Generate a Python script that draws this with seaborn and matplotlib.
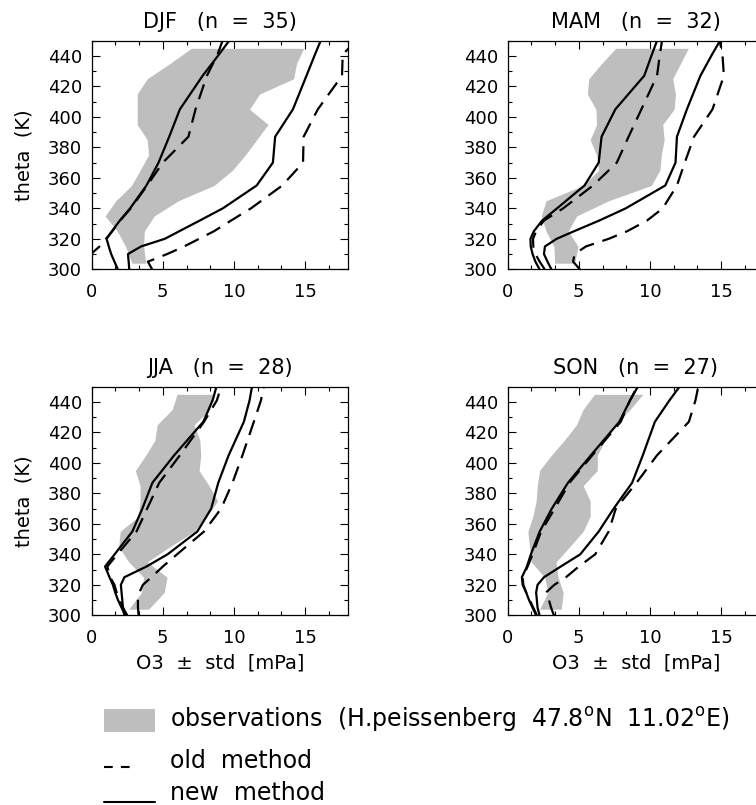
import numpy as np
import pandas as pd
import seaborn as sns
import matplotlib.pyplot as plt
from matplotlib.patches import Rectangle
from matplotlib.lines import Line2D
from matplotlib.ticker import MultipleLocator

# seasons and number of profiles
seasons = ['DJF', 'MAM', 'JJA', 'SON']
n_profiles = [35, 32, 28, 27]

# theta levels (K)
theta_obs = [304, 315, 325, 335, 345, 355, 365, 375, 385, 395, 405, 415, 425, 435, 445]
theta_mod = [300, 305, 310, 315, 320, 325, 332, 340, 355, 370, 387, 405, 427, 441, 450]

# observations: mean - std / mean + std (mPa)
djf_obs_lo = [2.83, 2.38, 1.8, 0.94, 1.7, 2.8, 3.4, 4.0, 3.9, 3.2, 3.2, 3.2, 3.9, 5.5, 7.0]
djf_obs_hi = [3.8, 3.65, 3.7, 4.4, 6.1, 8.6, 9.9, 10.8, 11.6, 12.4, 11.1, 11.8, 14.2, 14.4, 14.9]
mam_obs_lo = [3.3, 3.25, 2.7, 2.36, 2.7, 5.3, 6.4, 6.25, 5.8, 6.25, 6.2, 5.6, 5.7, 6.6, 7.6]
mam_obs_hi = [4.7, 4.95, 4.25, 4.85, 7.1, 10.1, 10.7, 10.8, 11.0, 10.9, 11.7, 11.8, 11.6, 12.15, 12.7]
jja_obs_lo = [2.6, 3.5, 3.65, 2.6, 1.9, 2.0, 3.3, 3.4, 3.4, 3.07, 3.8, 4.45, 4.6, 5.66, 6.0]
jja_obs_hi = [4.0, 5.1, 5.3, 3.9, 5.5, 7.2, 8.1, 8.85, 8.25, 7.55, 7.67, 7.6, 7.2, 8.3, 8.5]
son_obs_lo = [2.24, 2.83, 2.6, 1.65, 1.53, 1.42, 1.77, 2.0, 2.08, 2.24, 3.07, 4.0, 4.83, 5.3, 6.1]
son_obs_hi = [3.77, 3.9, 3.54, 3.4, 4.36, 5.3, 5.8, 5.8, 5.3, 6.3, 6.3, 6.85, 7.55, 8.6, 9.5]

# new method (solid)
djf_new_lo = [1.84, 1.6, 1.37, 1.2, 1.05, 1.42, 1.98, 2.7, 3.85, 4.7, 5.45, 6.2, 7.8, 8.95, 9.67]
djf_new_hi = [2.64, 2.6, 2.55, 3.47, 5.14, 6.16, 7.6, 9.22, 11.6, 12.74, 12.9, 14.15, 15.1, 15.7, 16.1]
mam_new_lo = [2.24, 1.95, 1.75, 1.62, 1.6, 1.84, 2.42, 3.47, 5.4, 6.4, 6.6, 7.57, 9.6, 10.14, 10.5]
mam_new_hi = [3.07, 2.8, 2.55, 2.62, 3.44, 4.67, 6.44, 8.3, 11.08, 11.8, 11.9, 12.6, 13.55, 14.37, 14.93]
jja_new_lo = [2.36, 2.1, 1.85, 1.65, 1.49, 1.25, 0.94, 1.61, 2.86, 3.56, 4.27, 5.8, 7.85, 8.5, 8.77]
jja_new_hi = [2.3, 2.2, 2.15, 2.1, 2.05, 2.3, 3.85, 5.33, 7.43, 8.4, 8.9, 9.63, 10.7, 11.1, 11.27]
son_new_lo = [2.0, 1.75, 1.5, 1.3, 1.05, 1.0, 1.35, 1.63, 2.25, 3.1, 4.24, 5.85, 7.85, 8.6, 9.15]
son_new_hi = [2.24, 2.1, 2.05, 2.0, 2.1, 2.55, 3.73, 5.1, 6.4, 7.45, 8.75, 9.5, 10.35, 11.37, 12.08]

# old method (dashed)
djf_old_lo = [-1.7, -0.9, -0.05, 0.55, 1.0, 1.45, 2.0, 2.75, 3.9, 5.0, 6.8, 7.3, 8.1, 8.85, 9.2]
djf_old_hi = [4.25, 3.95, 5.3, 6.5, 7.55, 8.6, 9.8, 11.2, 13.4, 14.86, 14.9, 15.9, 17.6, 17.65, 18.6]
mam_old_lo = [2.6, 2.25, 1.95, 1.8, 1.78, 2.0, 2.55, 3.9, 6.0, 7.67, 8.5, 9.4, 10.5, 10.7, 10.85]
mam_old_hi = [5.07, 4.6, 4.7, 5.5, 7.1, 8.4, 9.8, 10.9, 11.9, 12.45, 13.1, 14.4, 15.2, 15.1, 14.9]
jja_old_lo = [2.5, 2.2, 1.95, 1.75, 1.6, 1.3, 1.1, 1.8, 3.15, 3.9, 4.75, 6.2, 7.9, 8.8, 9.1]
jja_old_hi = [3.3, 3.25, 3.25, 3.35, 3.6, 4.2, 5.0, 6.0, 7.9, 9.1, 9.9, 10.6, 11.4, 11.9, 12.1]
son_old_lo = [2.05, 1.8, 1.55, 1.3, 1.1, 1.05, 1.4, 1.75, 2.35, 3.3, 4.35, 5.95, 7.95, 8.6, 9.1]
son_old_hi = [3.25, 3.05, 2.9, 2.7, 3.28, 4.1, 5.0, 6.15, 7.1, 7.6, 9.06, 10.5, 12.74, 13.2, 13.4]

obs = {'DJF': (djf_obs_lo, djf_obs_hi), 'MAM': (mam_obs_lo, mam_obs_hi),
       'JJA': (jja_obs_lo, jja_obs_hi), 'SON': (son_obs_lo, son_obs_hi)}
model = {
    'DJF': {'new': (djf_new_lo, djf_new_hi), 'old': (djf_old_lo, djf_old_hi)},
    'MAM': {'new': (mam_new_lo, mam_new_hi), 'old': (mam_old_lo, mam_old_hi)},
    'JJA': {'new': (jja_new_lo, jja_new_hi), 'old': (jja_old_lo, jja_old_hi)},
    'SON': {'new': (son_new_lo, son_new_hi), 'old': (son_old_lo, son_old_hi)},
}

# long table for seaborn
rows = []
for s in seasons:
    for method, (lo, hi) in model[s].items():
        for bound, vals in (('lo', lo), ('hi', hi)):
            for th, v in zip(theta_mod, vals):
                rows.append((s, method, bound, th, v))
lines = pd.DataFrame(rows, columns=['season', 'method', 'bound', 'theta', 'o3'])

sns.set_style('ticks')
plt.rcParams['font.family'] = ['DejaVu Sans']
plt.rcParams['mathtext.fontset'] = 'dejavusans'
plt.rcParams['text.color'] = 'black'
plt.rcParams['axes.labelcolor'] = 'black'
plt.rcParams['xtick.color'] = 'black'
plt.rcParams['ytick.color'] = 'black'

W, H = 756, 805
fig = plt.figure(figsize=(W / 100, H / 100), dpi=100)

# axes boxes in pixels (left, top)
aw, ah = 256, 228.6
boxes = [(91.7, 40.7), (507.7, 40.7), (91.7, 386.7), (507.7, 386.7)]

for i, s in enumerate(seasons):
    x0, y0 = boxes[i]
    ax = fig.add_axes([x0 / W, 1 - (y0 + ah) / H, aw / W, ah / H])
    lo, hi = obs[s]
    ax.fill_betweenx(theta_obs, lo, hi, color='#bebebe', lw=0, zorder=1)
    sns.lineplot(data=lines[lines.season == s], x='o3', y='theta',
                 style='method', units='bound', estimator=None,
                 sort=False, orient='y', color='black', lw=1.6,
                 dashes={'old': (7, 4), 'new': ''}, legend=False, ax=ax)
    ax.set_xlim(0, 18)
    ax.set_ylim(300, 450)
    ax.set_xticks([0, 5, 10, 15])
    ax.xaxis.set_minor_locator(MultipleLocator(5 / 3))
    ax.set_yticks(np.arange(300, 441, 20))
    ax.yaxis.set_minor_locator(MultipleLocator(10))
    ax.tick_params(which='both', direction='in', top=True, right=True,
                   width=0.8, labelsize=13, colors='black')
    ax.tick_params(which='major', length=5.5)
    ax.tick_params(which='minor', length=3)
    ax.tick_params(axis='x', pad=10)
    ax.tick_params(axis='y', pad=7)
    for sp in ax.spines.values():
        sp.set_linewidth(0.9)
        sp.set_color('black')
    ax.set_title(f'{s}   (n  =  {n_profiles[i]})', fontsize=15, pad=9.5, color='black')
    if i in (0, 2):
        ax.set_ylabel('theta  (K)', fontsize=14)
        ax.yaxis.set_label_coords(-0.228, 0.5)
    else:
        ax.set_ylabel('')
    if i in (2, 3):
        ax.set_xlabel('O3  ±  std  [mPa]', fontsize=14)
        ax.xaxis.set_label_coords(0.5, -0.169)
    else:
        ax.set_xlabel('')


def fx(px):
    return px / W


def fy(py):
    return 1 - py / H


# legend drawn below the panels
fig.add_artist(Rectangle((fx(104), fy(732.3)), (155 - 104) / W, (732.3 - 709) / H,
                         transform=fig.transFigure, color='#bebebe', lw=0))
fig.add_artist(Line2D([fx(104), fx(130)], [fy(767), fy(767)], transform=fig.transFigure,
                      color='black', lw=1.5, dashes=(4.2, 3.9)))
fig.add_artist(Line2D([fx(104), fx(155)], [fy(802.3), fy(802.3)], transform=fig.transFigure,
                      color='black', lw=1.5))
legend_labels = [r'observations  (H.peissenberg  47.8$^{\mathrm{o}}$N  11.02$^{\mathrm{o}}$E)',
                 'old  method', 'new  method']
for lab, yb, va in zip(legend_labels, [727, 768, 804.5], ['baseline', 'baseline', 'bottom']):
    fig.text(fx(170), fy(yb), lab, fontsize=17, ha='left', va=va)

fig.savefig('out.png', dpi=100)
